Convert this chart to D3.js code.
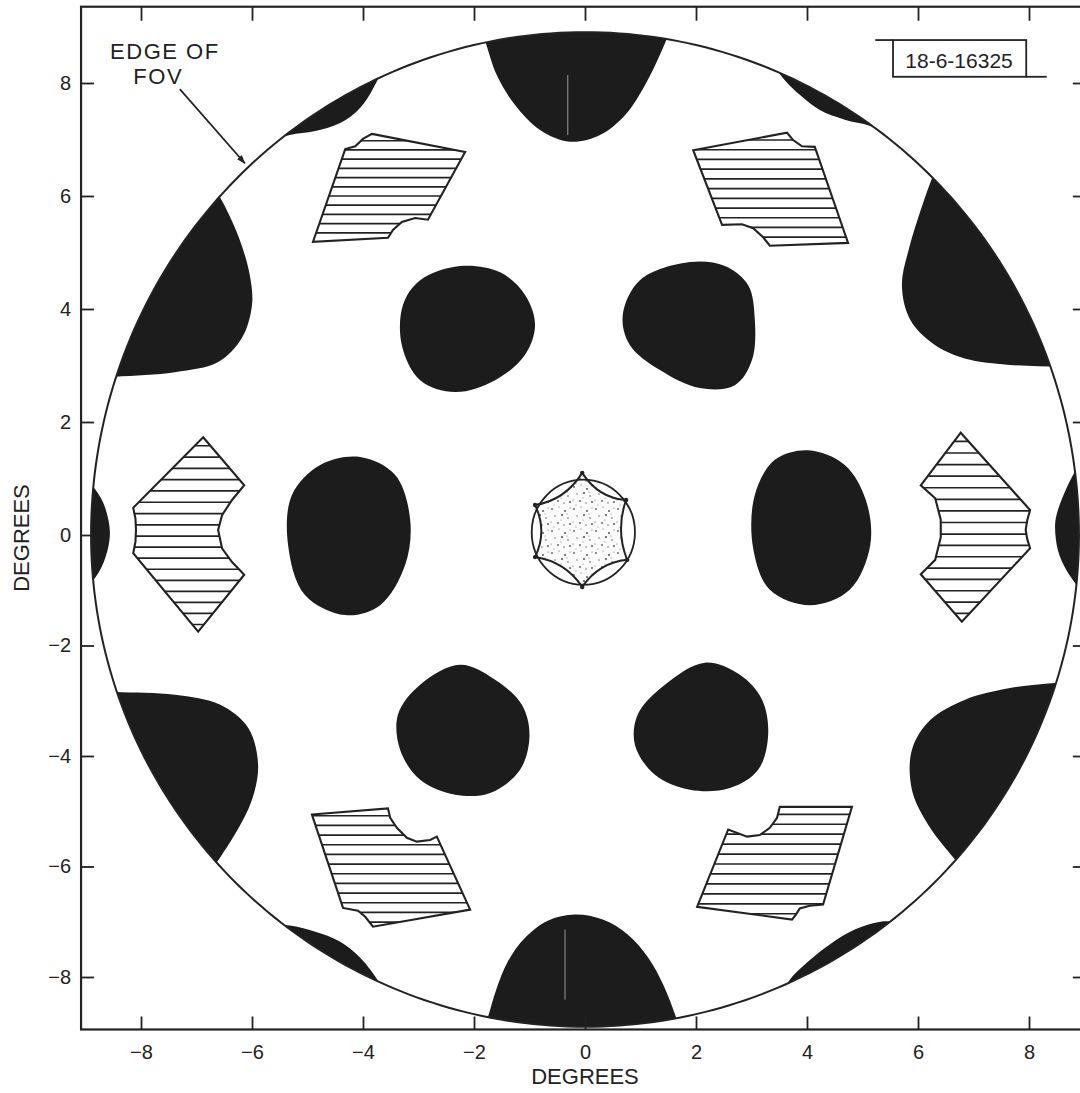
<!DOCTYPE html>
<html>
<head>
<meta charset="utf-8">
<script src="https://cdn.jsdelivr.net/npm/d3@7"></script>
<style>
  html, body { margin: 0; padding: 0; background: #fff; }
  svg { display: block; }
  text { font-family: "Liberation Sans", Arial, sans-serif; fill: #222; }
</style>
</head>
<body>
<svg id="chart" width="1080" height="1093"></svg>
<script>
// ---- axis ticks and text ----
const tickValues = [-8, -6, -4, -2, 0, 2, 4, 6, 8];
const axisTitle = "DEGREES";
const fovLabel = ["EDGE OF", "FOV"];
const plateId = "18-6-16325";

// field of view radius, degrees
const fovRadius = 8.9;

// ---- dark lobes of the inner ring (outline points, degrees) ----
const lobeLeft = [[-4.05,1.38],[-3.42,1.06],[-3.15,0.27],[-3.24,-0.54],[-3.69,-1.27],[-4.32,-1.45],[-5.05,-1.08],[-5.35,-0.18],[-5.28,0.71],[-4.77,1.24]];
const lobeRight = [[4.02,1.50],[4.68,1.24],[5.06,0.62],[5.14,-0.18],[4.77,-0.99],[4.05,-1.27],[3.33,-0.99],[3.03,-0.24],[3.06,0.71],[3.42,1.33]];
const lobeUpperLeft = [[-2.25,4.76],[-1.53,4.65],[-1.08,4.25],[-0.90,3.72],[-1.08,3.19],[-1.62,2.74],[-2.34,2.53],[-2.97,2.74],[-3.30,3.36],[-3.28,4.07],[-2.97,4.51]];
const lobeUpperRight = [[1.89,4.83],[2.52,4.76],[2.94,4.42],[3.06,3.81],[3.01,3.10],[2.70,2.65],[2.07,2.60],[1.35,2.92],[0.81,3.36],[0.68,3.89],[0.99,4.51]];
const lobeLowerLeft = [[-2.25,-2.35],[-1.62,-2.62],[-1.14,-3.07],[-1.00,-3.62],[-1.17,-4.25],[-1.71,-4.67],[-2.34,-4.70],[-2.97,-4.43],[-3.33,-3.89],[-3.37,-3.25],[-2.97,-2.71]];
const lobeLowerRight = [[2.16,-2.31],[2.79,-2.53],[3.19,-2.98],[3.30,-3.62],[3.12,-4.25],[2.61,-4.58],[1.89,-4.61],[1.26,-4.34],[0.90,-3.80],[0.95,-3.25],[1.44,-2.71]];

// ---- dark regions cut by the edge of the field (inner edge + points beyond the rim) ----
const rimTopEdge = [[-1.95,9.10],[-1.82,8.80],[-1.59,8.14],[-1.26,7.61],[-0.81,7.17],[-0.27,6.96],[0.27,7.08],[0.72,7.43],[1.08,7.96],[1.35,8.50],[1.50,8.85],[1.62,9.20]];
const rimTopOut = [[1.80,9.70],[-2.10,9.70]];
const rimBottomEdge = [[-1.85,-9.00],[-1.75,-8.73],[-1.60,-8.23],[-1.39,-7.72],[-1.08,-7.29],[-0.67,-6.98],[-0.18,-6.87],[0.32,-6.96],[0.77,-7.23],[1.14,-7.65],[1.41,-8.14],[1.64,-8.73],[1.72,-9.00]];
const rimBottomOut = [[1.90,-9.70],[-2.00,-9.70]];
const rimLeftEdge = [[-9.10,1.15],[-8.88,0.88],[-8.68,0.57],[-8.56,0.04],[-8.67,-0.49],[-8.88,-0.85],[-9.10,-1.08]];
const rimLeftOut = [[-9.70,-1.10],[-9.70,1.20]];
const rimRightEdge = [[8.92,1.29],[8.70,0.88],[8.52,0.44],[8.47,0.18],[8.52,-0.27],[8.67,-0.63],[8.92,-0.99]];
const rimRightOut = [[9.70,-1.00],[9.70,1.30]];
const rimUpperLeftEdge = [[-6.81,6.37],[-6.50,5.84],[-6.22,5.22],[-6.04,4.60],[-6.00,4.07],[-6.18,3.49],[-6.61,3.06],[-7.39,2.88],[-8.47,2.80],[-9.46,2.74]];
const rimUpperLeftOut = [[-9.80,2.74],[-9.80,7.50],[-7.00,7.50]];
const rimUpperRightEdge = [[6.40,6.70],[6.10,5.90],[5.84,5.08],[5.71,4.42],[5.86,3.81],[6.31,3.36],[6.94,3.10],[7.66,3.01],[8.56,2.97],[9.28,2.92]];
const rimUpperRightOut = [[9.80,2.90],[9.80,8.00],[6.50,8.00]];
const rimLowerLeftEdge = [[-9.46,-2.80],[-8.47,-2.84],[-7.39,-2.89],[-6.58,-3.07],[-6.07,-3.49],[-5.89,-4.16],[-6.00,-4.79],[-6.31,-5.42],[-6.85,-6.24]];
const rimLowerLeftOut = [[-7.00,-7.60],[-9.80,-7.60],[-9.80,-2.80]];
const rimLowerRightEdge = [[9.28,-2.62],[8.47,-2.68],[7.66,-2.77],[6.85,-2.98],[6.22,-3.35],[5.89,-3.89],[5.89,-4.61],[6.18,-5.24],[6.67,-5.88],[7.03,-6.33]];
const rimLowerRightOut = [[7.20,-7.60],[9.80,-7.60],[9.80,-2.60]];
const crescentULEdge = [[-5.95,6.73],[-5.64,6.96],[-5.32,7.08],[-4.86,7.15],[-4.41,7.29],[-4.05,7.56],[-3.72,8.09],[-3.60,8.41]];
const crescentULOut = [[-3.40,9.00],[-6.20,9.00]];
const crescentUREdge = [[3.33,8.41],[3.60,8.05],[3.87,7.79],[4.23,7.52],[4.68,7.35],[5.14,7.24],[5.59,7.00]];
const crescentUROut = [[5.80,9.00],[3.20,9.00]];
const crescentLLEdge = [[-5.68,-7.05],[-5.32,-7.07],[-4.86,-7.18],[-4.41,-7.36],[-4.05,-7.65],[-3.72,-8.08],[-3.60,-8.32]];
const crescentLLOut = [[-3.40,-9.50],[-6.20,-9.50]];
const crescentLREdge = [[3.55,-8.32],[3.69,-8.05],[4.02,-7.72],[4.41,-7.41],[4.86,-7.14],[5.32,-7.00],[5.68,-7.00]];
const crescentLROut = [[5.90,-9.50],[3.30,-9.50]];

// ---- hatched regions (polygon vertices, degrees) ----
const hatchUpperLeft = [[-3.84,7.10],[-2.16,6.78],[-2.83,5.58],[-3.06,5.61],[-3.30,5.54],[-3.46,5.40],[-3.55,5.26],[-4.90,5.19],[-4.32,6.83],[-4.14,6.88],[-4.00,7.01]];
const hatchUpperRight = [[1.95,6.81],[3.64,7.12],[3.75,6.99],[3.91,6.88],[4.14,6.87],[4.74,5.17],[3.33,5.12],[3.21,5.27],[3.03,5.43],[2.83,5.50],[2.47,5.49]];
const hatchLeft = [[-6.88,1.73],[-6.14,0.88],[-6.36,0.62],[-6.54,0.35],[-6.61,0.09],[-6.54,-0.24],[-6.36,-0.49],[-6.14,-0.72],[-6.97,-1.75],[-8.14,-0.33],[-8.10,-0.12],[-8.09,0.09],[-8.10,0.29],[-8.14,0.48]];
const hatchRight = [[6.77,1.81],[8.02,0.44],[7.97,0.27],[7.94,0.09],[7.97,-0.08],[8.02,-0.24],[6.79,-1.57],[6.05,-0.71],[6.31,-0.45],[6.41,-0.04],[6.41,0.27],[6.31,0.65],[6.05,0.88]];
const hatchLowerLeft = [[-4.92,-5.06],[-3.55,-4.95],[-3.51,-5.12],[-3.39,-5.30],[-3.21,-5.48],[-3.03,-5.55],[-2.79,-5.52],[-2.67,-5.46],[-2.07,-6.78],[-3.82,-7.09],[-3.96,-6.91],[-4.09,-6.80],[-4.36,-6.75]];
const hatchLowerRight = [[4.81,-4.92],[3.51,-4.92],[3.46,-5.12],[3.33,-5.30],[3.15,-5.43],[2.92,-5.46],[2.58,-5.33],[2.02,-6.73],[3.73,-6.96],[3.80,-6.87],[3.87,-6.76],[4.05,-6.71],[4.29,-6.69]];

// ---- central region: circle and concave hexagon ----
const centreCircle = { cx: -0.03, cy: 0.05, r: 0.93 };
const centreHex = [[-0.05,1.10],[0.74,0.62],[0.76,-0.45],[-0.05,-0.94],[-0.90,-0.40],[-0.90,0.53]];

// ---- annotations (degrees) ----
const fovArrow = [[-7.30,7.89],[-6.13,6.58]];
const fovLabelPos = [[-7.57,8.42],[-7.69,7.98]];
const plateBox = [[5.55,8.76],[7.95,8.11]];
const plateLeaders = [[[5.23,8.76],[5.55,8.76]],[[7.95,8.11],[8.32,8.11]]];
const plateTextPos = [6.74,8.27];
const streaks = [[[-0.31,8.14],[-0.31,7.08]],[[-0.36,-7.14],[-0.36,-8.41]]];

// ---------------------------------------------------------------
const ink = "#222";
const fillDark = "#1c1c1c";
const hatchStep = [0.163, 0.172, 0.200, 0.205, 0.175, 0.180];

const svg = d3.select("#chart");
const x = d3.scaleLinear().domain([-8, 8]).range([141, 1029]);
const y = d3.scaleLinear().domain([-8, 0, 8]).range([977, 535, 83]);
const frame = { x0: -9.08, x1: 9.06, y0: -8.95, y1: 9.35 };

const P = d => [x(d[0]), y(d[1])];
const smoothOpen = d3.line().x(d => x(d[0])).y(d => y(d[1])).curve(d3.curveCatmullRom.alpha(0.5));
const smoothClosed = d3.line().x(d => x(d[0])).y(d => y(d[1])).curve(d3.curveCatmullRomClosed.alpha(0.5));
const polygon = d3.line().x(d => x(d[0])).y(d => y(d[1])).curve(d3.curveLinearClosed);
const segment = d3.line().x(d => x(d[0])).y(d => y(d[1]));

const defs = svg.append("defs");

// field of view outline
const fovPts = d3.range(0, 360, 1).map(a => {
  const t = a * Math.PI / 180;
  return [fovRadius * Math.cos(t), fovRadius * Math.sin(t)];
});
const fovPath = polygon(fovPts);
defs.append("clipPath").attr("id", "fov-clip").append("path").attr("d", fovPath);

// stipple used inside the centre hexagon
const stipple = defs.append("pattern").attr("id", "stipple")
  .attr("patternUnits", "userSpaceOnUse").attr("width", 22).attr("height", 22);
[[2,3,0.9],[9,1,0.6],[15,5,1.0],[20,2,0.6],[5,10,0.7],[12,9,1.1],[18,12,0.8],
 [1,16,0.6],[8,17,0.9],[14,19,0.7],[20,18,1.0],[11,14,0.5],[4,21,0.5],[17,8,0.5]]
  .forEach(([cx, cy, r]) => stipple.append("circle").attr("cx", cx).attr("cy", cy).attr("r", r).attr("fill", "#5a5a5a"));

// arrow head
defs.append("marker").attr("id", "arrow").attr("viewBox", "0 0 10 10")
  .attr("refX", 9).attr("refY", 5).attr("markerWidth", 5).attr("markerHeight", 5)
  .attr("orient", "auto-start-reverse").attr("markerUnits", "strokeWidth")
  .append("path").attr("d", "M0,1.5 L10,5 L0,8.5 Z").attr("fill", ink);

// ---- dark regions bounded by the field edge ----
const rims = [
  [rimTopEdge, rimTopOut], [rimBottomEdge, rimBottomOut],
  [rimLeftEdge, rimLeftOut], [rimRightEdge, rimRightOut],
  [rimUpperLeftEdge, rimUpperLeftOut], [rimUpperRightEdge, rimUpperRightOut],
  [rimLowerLeftEdge, rimLowerLeftOut], [rimLowerRightEdge, rimLowerRightOut],
  [crescentULEdge, crescentULOut], [crescentUREdge, crescentUROut],
  [crescentLLEdge, crescentLLOut], [crescentLREdge, crescentLROut]
];
const rimLayer = svg.append("g").attr("clip-path", "url(#fov-clip)");
rimLayer.selectAll("path").data(rims).join("path")
  .attr("d", ([edge, out]) => smoothOpen(edge) + out.map(p => "L" + P(p).join(",")).join("") + "Z")
  .attr("fill", fillDark);
rimLayer.selectAll("line.streak").data(streaks).join("line").attr("class", "streak")
  .attr("x1", d => x(d[0][0])).attr("y1", d => y(d[0][1]))
  .attr("x2", d => x(d[1][0])).attr("y2", d => y(d[1][1]))
  .attr("stroke", "#eee").attr("stroke-width", 1).attr("opacity", 0.6);

// field of view circle
svg.append("path").attr("d", fovPath).attr("fill", "none").attr("stroke", ink).attr("stroke-width", 2);

// ---- inner ring lobes ----
const lobes = [lobeLeft, lobeRight, lobeUpperLeft, lobeUpperRight, lobeLowerLeft, lobeLowerRight];
svg.append("g").selectAll("path").data(lobes).join("path")
  .attr("d", smoothClosed).attr("fill", fillDark);

// ---- hatched regions ----
const hatches = [hatchUpperLeft, hatchUpperRight, hatchLeft, hatchRight, hatchLowerLeft, hatchLowerRight];
hatches.forEach((pts, i) => {
  const id = "hatch-clip-" + i;
  defs.append("clipPath").attr("id", id).append("path").attr("d", polygon(pts));
  const g = svg.append("g");
  g.append("path").attr("d", polygon(pts)).attr("fill", "#fff");
  const [yLo, yHi] = d3.extent(pts, d => d[1]);
  const [xLo, xHi] = d3.extent(pts, d => d[0]);
  const step = hatchStep[i];
  const rows = d3.range(yHi - step * 0.75, yLo, -step);
  g.append("g").attr("clip-path", "url(#" + id + ")")
    .selectAll("line").data(rows).join("line")
    .attr("x1", x(xLo - 0.2)).attr("x2", x(xHi + 0.2))
    .attr("y1", d => y(d)).attr("y2", d => y(d))
    .attr("stroke", ink).attr("stroke-width", 1.7);
  g.append("path").attr("d", polygon(pts)).attr("fill", "none")
    .attr("stroke", ink).attr("stroke-width", 2.1).attr("stroke-linejoin", "miter");
});

// ---- centre: concave hexagon in a circle ----
const cc = P([centreCircle.cx, centreCircle.cy]);
const hexPx = centreHex.map(P);
let hexD = "M" + hexPx[0].join(",");
hexPx.forEach((p, i) => {
  const q = hexPx[(i + 1) % hexPx.length];
  const mx = (p[0] + q[0]) / 2, my = (p[1] + q[1]) / 2;
  const k = 0.74;
  const c = [cc[0] + (mx - cc[0]) * k, cc[1] + (my - cc[1]) * k];
  hexD += "Q" + c.join(",") + " " + q.join(",");
});
hexD += "Z";
const centre = svg.append("g");
centre.append("path").attr("d", hexD).attr("fill", "#fbfbfb");
centre.append("path").attr("d", hexD).attr("fill", "url(#stipple)");
centre.append("path").attr("d", hexD).attr("fill", "none").attr("stroke", ink).attr("stroke-width", 2);
centre.append("ellipse")
  .attr("cx", cc[0]).attr("cy", cc[1])
  .attr("rx", x(centreCircle.r) - x(0)).attr("ry", y(0) - y(centreCircle.r))
  .attr("fill", "none").attr("stroke", ink).attr("stroke-width", 1.8);
centre.selectAll("circle.vertex").data(hexPx).join("circle").attr("class", "vertex")
  .attr("cx", d => d[0]).attr("cy", d => d[1]).attr("r", 2.2).attr("fill", ink);

// ---- annotations ----
svg.append("path").attr("d", segment(fovArrow)).attr("stroke", ink).attr("stroke-width", 1.8)
  .attr("fill", "none").attr("marker-end", "url(#arrow)");
svg.selectAll("text.fov").data(fovLabel).join("text").attr("class", "fov")
  .attr("x", (d, i) => x(fovLabelPos[i][0])).attr("y", (d, i) => y(fovLabelPos[i][1]))
  .attr("text-anchor", "middle").attr("font-size", 22).attr("letter-spacing", 1.5)
  .text(d => d);

svg.append("rect")
  .attr("x", x(plateBox[0][0])).attr("y", y(plateBox[0][1]))
  .attr("width", x(plateBox[1][0]) - x(plateBox[0][0]))
  .attr("height", y(plateBox[1][1]) - y(plateBox[0][1]))
  .attr("fill", "none").attr("stroke", ink).attr("stroke-width", 1.8);
svg.selectAll("path.leader").data(plateLeaders).join("path").attr("class", "leader")
  .attr("d", segment).attr("stroke", ink).attr("stroke-width", 1.8);
svg.append("text").attr("x", x(plateTextPos[0])).attr("y", y(plateTextPos[1]))
  .attr("text-anchor", "middle").attr("font-size", 21).text(plateId);

// ---- axes and frame ----
const fx0 = x(frame.x0), fx1 = x(frame.x1), fy0 = y(frame.y0), fy1 = y(frame.y1);

function styleAxis(g, size) {
  g.select(".domain").remove();
  g.selectAll(".tick line").attr("stroke", ink).attr("stroke-width", 1.8);
  g.selectAll(".tick text").attr("fill", ink).attr("font-size", size)
    .attr("font-family", "Liberation Sans, Arial, sans-serif");
}

svg.append("g").attr("transform", `translate(${fx0},0)`)
  .call(d3.axisLeft(y).tickValues(tickValues).tickSize(-13).tickPadding(10))
  .call(g => styleAxis(g, 20));
svg.append("g").attr("transform", `translate(0,${fy0})`)
  .call(d3.axisBottom(x).tickValues(tickValues).tickSize(-13).tickPadding(15))
  .call(g => styleAxis(g, 20));
svg.append("g").attr("transform", `translate(0,${fy1})`)
  .call(d3.axisTop(x).tickValues(tickValues).tickSize(-14).tickFormat(""))
  .call(g => styleAxis(g, 20));
svg.append("g").attr("transform", `translate(${fx1},0)`)
  .call(d3.axisRight(y).tickValues(tickValues).tickSize(-15).tickFormat(""))
  .call(g => styleAxis(g, 20));

svg.append("rect").attr("x", fx0).attr("y", fy1).attr("width", fx1 - fx0).attr("height", fy0 - fy1)
  .attr("fill", "none").attr("stroke", ink).attr("stroke-width", 2.2);

svg.append("text").attr("x", x(0)).attr("y", fy0 + 55)
  .attr("text-anchor", "middle").attr("font-size", 22).text(axisTitle);
svg.append("text").attr("transform", `translate(${fx0 - 52},${y(0) + 3}) rotate(-90)`)
  .attr("text-anchor", "middle").attr("font-size", 22).text(axisTitle);
</script>
</body>
</html>
